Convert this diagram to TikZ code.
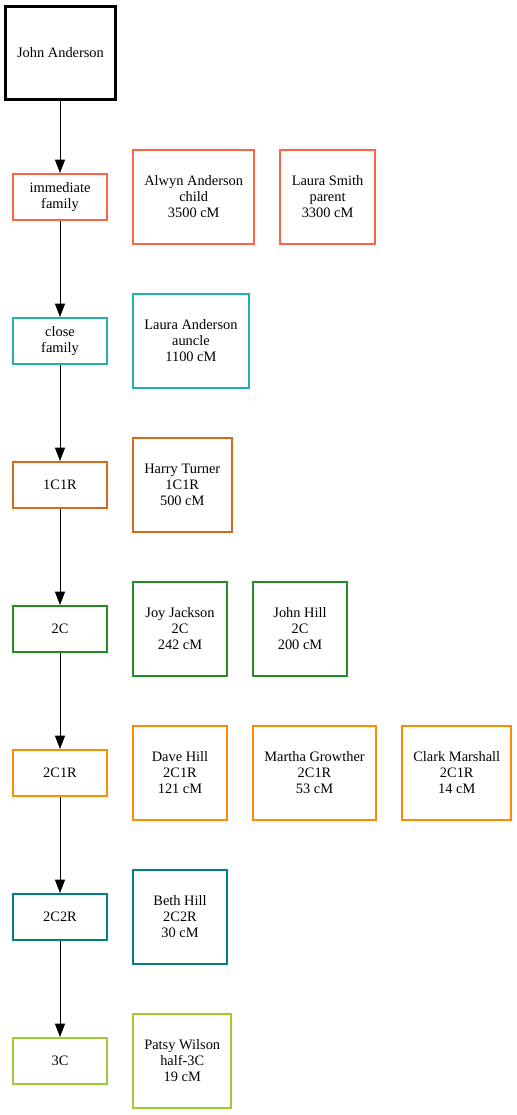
\documentclass[tikz,border=0pt]{standalone}
\usetikzlibrary{arrows.meta,positioning}
\usepackage{xcolor}
\usepackage{fontspec}
\setmainfont{Liberation Serif}
\definecolor{tomato}{HTML}{FF6347}
\definecolor{seagreen}{HTML}{20B2AA}
\definecolor{chocolate}{HTML}{D2691E}
\definecolor{forest}{HTML}{228B22}
\definecolor{darkorange}{HTML}{FF8C00}
\definecolor{tealc}{HTML}{008080}
\definecolor{yellowgreen}{HTML}{9ACD32}

\begin{document}
\begin{tikzpicture}[x=0.75pt, y=-0.75pt,
        font=\fontsize{10.8}{12}\selectfont,
        box/.style={draw, line width=1.5, align=center, inner xsep=8.5pt, inner ysep=0pt},
        level/.style={box, minimum width=70.5pt, minimum height=34.5pt},
        person/.style={box, minimum width=70.5pt, minimum height=70.5pt},
        link/.style={-{Triangle[length=10pt, width=7.5pt]}, line width=0.75},
        node distance=18pt]
        \useasboundingbox (0, 0) rectangle (517, 1115);

        \node[draw, line width=2, minimum width=82.5pt, minimum height=70pt] (self) at (60.5, 53) {John Anderson};

        \node[level, draw=tomato] (immediate) at (60, 197) {immediate\\family};
        \node[person, draw=tomato, right=of immediate] (alwyn) {Alwyn Anderson\\child\\3500 cM};
        \node[person, draw=tomato, right=of alwyn] (laurasmith) {Laura Smith\\parent\\3300 cM};

        \node[level, draw=seagreen] (close) at (60, 341) {close\\family};
        \node[person, draw=seagreen, right=of close] (lauraanderson) {Laura Anderson\\auncle\\1100 cM};

        \node[level, draw=chocolate] (c1r1) at (60, 485) {1C1R};
        \node[person, draw=chocolate, right=of c1r1] (harry) {Harry Turner\\1C1R\\500 cM};

        \node[level, draw=forest] (c2) at (60, 629) {2C};
        \node[person, draw=forest, right=of c2] (joy) {Joy Jackson\\2C\\242 cM};
        \node[person, draw=forest, right=of joy] (johnhill) {John Hill\\2C\\200 cM};

        \node[level, draw=darkorange] (c2r1) at (60, 773) {2C1R};
        \node[person, draw=darkorange, right=of c2r1] (dave) {Dave Hill\\2C1R\\121 cM};
        \node[person, draw=darkorange, right=of dave] (martha) {Martha Growther\\2C1R\\53 cM};
        \node[person, draw=darkorange, right=of martha] (clark) {Clark Marshall\\2C1R\\14 cM};

        \node[level, draw=tealc] (c2r2) at (60, 917) {2C2R};
        \node[person, draw=tealc, right=of c2r2] (beth) {Beth Hill\\2C2R\\30 cM};

        \node[level, draw=yellowgreen] (c3) at (60, 1061) {3C};
        \node[person, draw=yellowgreen, right=of c3] (patsy) {Patsy Wilson\\half-3C\\19 cM};

        \draw[link] (self.south -| immediate) -- (immediate);
        \draw[link] (immediate) -- (close);
        \draw[link] (close) -- (c1r1);
        \draw[link] (c1r1) -- (c2);
        \draw[link] (c2) -- (c2r1);
        \draw[link] (c2r1) -- (c2r2);
        \draw[link] (c2r2) -- (c3);
\end{tikzpicture}
\end{document}
